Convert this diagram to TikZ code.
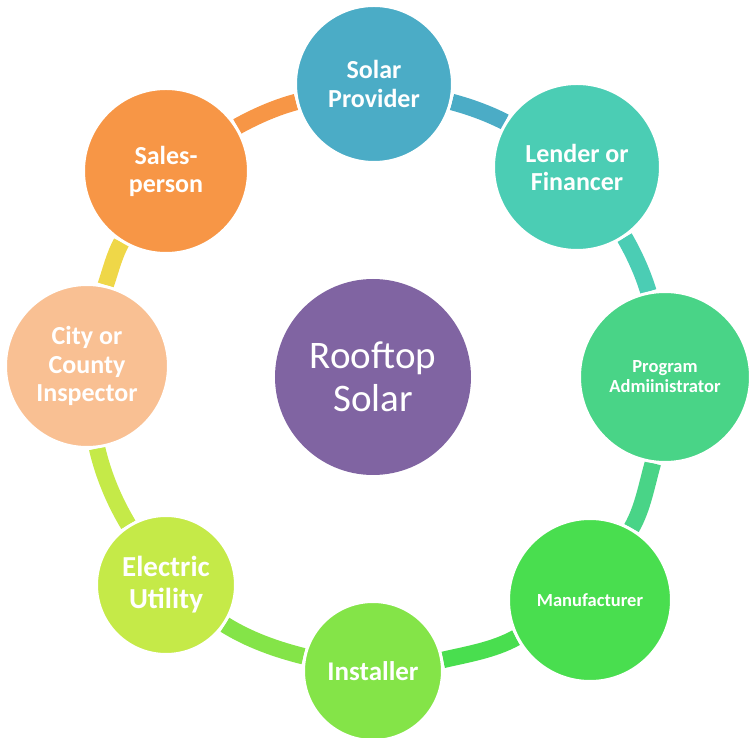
\documentclass[tikz,border=0pt]{standalone}
\usepackage{fontspec}
\setmainfont{Carlito}
\usetikzlibrary{backgrounds}
\definecolor{rooftoppurple}{HTML}{8064A2}
\definecolor{solarblue}{HTML}{4BACC6}
\definecolor{lenderteal}{HTML}{4BCDB4}
\definecolor{programgreen}{HTML}{49D487}
\definecolor{manufgreen}{HTML}{49DE4F}
\definecolor{installergreen}{HTML}{84E448}
\definecolor{electriclime}{HTML}{C5EA48}
\definecolor{citypeach}{HTML}{F9C093}
\definecolor{salesorange}{HTML}{F79646}
\definecolor{bandyellow}{HTML}{EFD748}

\begin{document}
\begin{tikzpicture}[x=1pt,y=1pt,
    part/.style={circle,draw=white,line width=3pt,text=white,align=center},
    band/.style={line width=16.5pt,looseness=0.85}]
    \useasboundingbox (-375,-358) rectangle (374,380);
    % 中心圆
    \node[circle,fill=rooftoppurple,minimum size=196pt,text=white,align=center,
        font=\fontsize{39}{43}\selectfont] (rooftop) at (-2,3) {Rooftop\\Solar};
    % 外圈的八个圆, 顺时针
    \node[part,fill=solarblue,minimum size=157pt,font=\fontsize{26}{29}\selectfont\bfseries]
        (solar) at (-1,296) {Solar\\Provider};
    \node[part,fill=lenderteal,minimum size=167pt,font=\fontsize{26}{28}\selectfont\bfseries]
        (lender) at (202,213) {Lender or\\Financer};
    \node[part,fill=programgreen,minimum size=171pt,font=\fontsize{18.5}{20}\selectfont\bfseries]
        (program) at (290,3) {Program\\Admiinistrator};
    \node[part,fill=manufgreen,minimum size=163pt,font=\fontsize{18.5}{20}\selectfont\bfseries]
        (manuf) at (215,-220) {Manufacturer};
    \node[part,fill=installergreen,minimum size=139pt,font=\fontsize{27}{30}\selectfont\bfseries]
        (installer) at (-2,-291) {Installer};
    \node[part,fill=electriclime,minimum size=139pt,font=\fontsize{29}{32}\selectfont\bfseries]
        (electric) at (-209,-205) {Electric\\Utility};
    \node[part,fill=citypeach,minimum size=163pt,font=\fontsize{26}{28.5}\selectfont\bfseries]
        (city) at (-288,14) {City or\\County\\Inspector};
    \node[part,fill=salesorange,minimum size=165pt,font=\fontsize{26}{28}\selectfont\bfseries]
        (sales) at (-209,209) {Sales-\\person};
    % 圆之间的弧形连线
    \begin{scope}[on background layer]
        \draw[band,draw=salesorange] (sales.32) to[out=29,in=195] (solar.193);
        \draw[band,draw=solarblue] (solar.347) to[out=-15,in=153] (lender.148);
        \draw[band,draw=lenderteal] (lender.304) to[out=-60,in=107] (program.101);
        \draw[band,draw=programgreen] (program.262) to[out=-106,in=60] (manuf.60);
        \draw[band,draw=manufgreen] (manuf.207) to[out=-151,in=13] (installer.9);
        \draw[band,draw=installergreen] (installer.168) to[out=166,in=328] (electric.326);
        \draw[band,draw=electriclime] (electric.122) to[out=121,in=283] (city.277);
        \draw[band,draw=bandyellow] (city.77) to[out=71,in=241] (sales.238);
    \end{scope}
\end{tikzpicture}
\end{document}
